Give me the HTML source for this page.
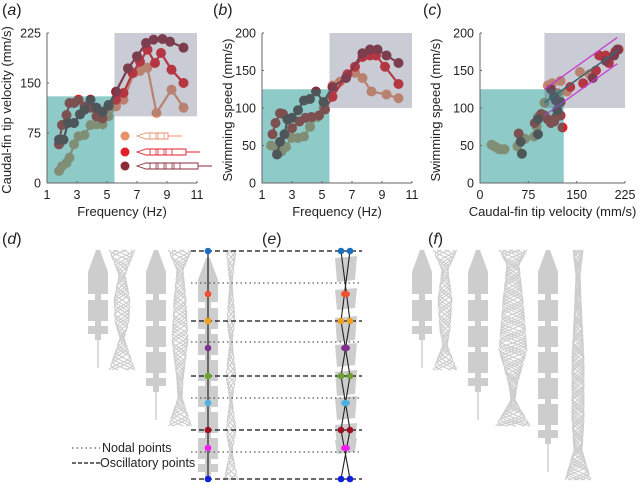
<!DOCTYPE html>
<html><head><meta charset="utf-8"><style>
body{margin:0;background:#fff;overflow:hidden;}
svg{display:block;font-family:"Liberation Sans",sans-serif;}
</style></head><body>
<svg id="fig" width="640" height="483" viewBox="0 0 640 483"></svg>
<script>
// Panel (a): frequency vs caudal-fin tip velocity
const aLightF=[1.8,2,2.3,2.5,2.8,3.1,3.5,3.9,4.3,4.7,5.1,5.6,6.1,6.8,7.2,7.7,8.3,9.3,10.1];
const aLightV=[18,25,30,38,58,70,72,87,88,88,100,115,125,165,168,173,105,140,113];
const aRedF=[1.8,2,2.3,2.5,2.8,3.1,3.5,3.9,4.3,4.7,5.1,5.6,6.1,6.7,7.2,7.7,8.2,8.6,9.3,10.1];
const aRedV=[58,87,102,120,120,125,115,113,100,97,115,125,135,165,182,200,180,195,170,150];
const aDarkF=[1.8,2.1,2.4,2.8,3.2,3.5,3.9,4.3,4.7,5.1,5.6,6.4,7,7.6,8.1,8.7,9.2,10.1];
const aDarkV=[65,65,90,90,103,110,125,113,107,117,137,172,190,210,215,216,212,203];
// Panel (b): frequency vs swimming speed
const bLightF=[1.6,2,2.3,2.6,3,3.4,3.8,4.2,4.7,5.1,5.7,6.2,6.6,7.2,7.7,8.3,9.3,10.1];
const bLightS=[50,45,42,48,60,60,62,75,88,100,130,135,140,147,140,122,118,113];
const bRedF=[1.7,1.9,2.2,2.4,2.7,3,3.5,3.9,4.3,4.8,5.2,5.7,6.7,7.2,7.7,8.2,8.6,9.2,10.1];
const bRedS=[65,80,93,92,85,73,82,87,88,90,98,115,145,155,168,170,170,155,132];
const bDarkF=[2,2.2,2.5,2.7,3,3.4,3.8,4.2,4.6,5.1,5.7,6.6,7.7,8.2,8.7,9.3,10.1];
const bDarkS=[38,55,65,85,87,97,110,112,122,108,128,140,173,178,178,170,160];
// Panel (c): tip velocity vs swimming speed
const cLightV=[18,22,26,30,34,38,58,70,84,88,90,100,105,112,120,125,135,155,170];
const cLightS=[51,49,47,45,45,45,49,59,62,75,88,107,130,133,120,136,122,148,145];
const cRedV=[60,85,95,100,105,110,118,125,128,115,140,160,180,185,195,200,210,215];
const cRedS=[66,80,92,90,85,80,88,90,74,82,128,133,150,170,170,160,175,178];
const cDarkV=[65,63,90,90,110,115,118,125,120,175,195,213,208];
const cDarkS=[39,55,65,85,125,115,110,108,97,140,163,178,170];
const cFitV=[100,213];
const cFitS=[107,176];
const cBandOffset=[18,-17];

const NS="http://www.w3.org/2000/svg";
const svg=document.getElementById('fig');
function el(tag,attrs,parent){const e=document.createElementNS(NS,tag);for(const k in attrs)e.setAttribute(k,attrs[k]);(parent||svg).appendChild(e);return e;}
function txt(x,y,s,size,extra,parent){const t=el('text',Object.assign({x:x,y:y,'font-size':size,fill:'#222'},extra||{}),parent);t.textContent=s;return t;}
const COL={light:'#e8906a',red:'#e02028',dark:'#8c2a38'};

function axes(o){
  const sx=v=>o.x0+(v-o.xmin)/(o.xmax-o.xmin)*(o.x1-o.x0);
  const sy=v=>o.y0-(v-o.ymin)/(o.ymax-o.ymin)*(o.y0-o.y1);
  return {sx,sy};
}
function panel(o){
  const g=el('g',{});
  
  
  const {sx,sy}=axes(o);
  o.series.forEach(s=>{
    const sg=el('g',{},g);
    
    
    if(s.line){
      const pts=s.xs.map((x,i)=>sx(x)+','+sy(s.ys[i])).join(' ');
      const pl=el('polyline',{points:pts,fill:'none',stroke:s.color,'stroke-width':2.2},sg);
      
      
    }
    s.xs.forEach((x,i)=>{
      const c=el('circle',{cx:sx(x),cy:sy(s.ys[i]),r:5,fill:s.color},sg);
      
      
    });
  });
  if(o.extra)o.extra(g,sx,sy);
  const r1=el('rect',{x:sx(o.teal[0]),y:sy(o.teal[3]),width:sx(o.teal[1])-sx(o.teal[0]),height:sy(o.teal[2])-sy(o.teal[3]),fill:'rgba(5,140,133,0.45)'},g);
  
  
  const r2=el('rect',{x:sx(o.gray[0]),y:sy(o.gray[3]),width:sx(o.gray[1])-sx(o.gray[0]),height:sy(o.gray[2])-sy(o.gray[3]),fill:'rgba(90,100,125,0.33)'},g);
  
  
  const ax=el('path',{d:`M${o.x0},${o.y1}V${o.y0}H${o.x1}`,fill:'none',stroke:'#666','stroke-width':1},g);
  
  
  o.xt.forEach(v=>{el('line',{x1:sx(v),x2:sx(v),y1:o.y0,y2:o.y0-2,stroke:'#666'},g);
    const t=txt(sx(v),o.y0+16,String(v),12.5,{'text-anchor':'middle'},g);
    });
  o.yt.forEach(v=>{el('line',{x1:o.x0,x2:o.x0+2,y1:sy(v),y2:sy(v),stroke:'#666'},g);
    const t=txt(o.x0-6,sy(v)+4.5,String(v),12.5,{'text-anchor':'end'},g);
    });
  const xl=txt((o.x0+o.x1)/2,o.y0+33,o.xlabel,13,{'text-anchor':'middle'},g);
  
  const yl=txt(0,0,o.ylabel,13,{'text-anchor':'middle',transform:`translate(${o.ylx},${(o.y0+o.y1)/2+2}) rotate(-90)`},g);
  
  const pl=el('text',{x:o.lx,y:15,'font-size':16,fill:'#222'},g);
  pl.innerHTML='(<tspan font-style="italic">'+o.letter+'</tspan>)';
  
}

panel({name:'panel-a-chart',letter:'a',lx:2,x0:47,x1:197,y0:183,y1:33,xmin:1,xmax:11,ymin:0,ymax:225,
  xt:[1,3,5,7,9,11],yt:[0,75,150,225],xlabel:'Frequency (Hz)',ylabel:'Caudal-fin  tip velocity (mm/s)',ylx:11,
  teal:[1,5.5,0,130],gray:[5.5,11,100,225],
  series:[{name:'series-short-fin',xs:aLightF,ys:aLightV,color:COL.light,line:1},
          {name:'series-medium-fin',xs:aRedF,ys:aRedV,color:COL.red,line:1},
          {name:'series-long-fin',xs:aDarkF,ys:aDarkV,color:COL.dark,line:1}]});
panel({name:'panel-b-chart',letter:'b',lx:213,x0:262,x1:412,y0:183,y1:33,xmin:1,xmax:11,ymin:0,ymax:200,
  xt:[1,3,5,7,9,11],yt:[0,50,100,150,200],xlabel:'Frequency (Hz)',ylabel:'Swimming speed (mm/s)',ylx:232,
  teal:[1,5.5,0,125],gray:[5.5,11,100,200],
  series:[{name:'series-short-fin',xs:bLightF,ys:bLightS,color:COL.light,line:1},
          {name:'series-medium-fin',xs:bRedF,ys:bRedS,color:COL.red,line:1},
          {name:'series-long-fin',xs:bDarkF,ys:bDarkS,color:COL.dark,line:1}]});
panel({name:'panel-c-chart',letter:'c',lx:423,x0:480,x1:625,y0:183,y1:33,xmin:0,xmax:225,ymin:0,ymax:200,
  xt:[0,75,150,225],yt:[0,50,100,150,200],xlabel:'Caudal-fin tip velocity (mm/s)',ylabel:'Swimming speed (mm/s)',ylx:440,
  teal:[0,130,0,125],gray:[100,225,100,200],
  series:[{name:'scatter-short-fin',xs:cLightV,ys:cLightS,color:COL.light},
          {name:'scatter-medium-fin',xs:cRedV,ys:cRedS,color:COL.red},
          {name:'scatter-long-fin',xs:cDarkV,ys:cDarkS,color:COL.dark}],
  extra:(g,sx,sy)=>{
    const f=el('line',{x1:sx(cFitV[0]),y1:sy(cFitS[0]),x2:sx(cFitV[1]),y2:sy(cFitS[1]),stroke:'#2a6a6a','stroke-width':1.5},g);
    
    cBandOffset.forEach(d=>{
      const b=el('line',{x1:sx(cFitV[0]),y1:sy(cFitS[0]+d),x2:sx(cFitV[1]),y2:sy(cFitS[1]+d),stroke:'#ff20ff','stroke-width':1.3},g);
      
    });
  }});

// legend in panel a
[[COL.light,136,45],[COL.red,152,63],[COL.dark,166,75]].forEach(([c,y,w],i)=>{
  const lg=el('g',{});
  
  
  el('circle',{cx:125,cy:y,r:4.5,fill:c},lg);
  el('path',{d:`M137,${y} L146,${y-3} H${137+w-14} V${y+3} H146 Z M${137+w-14},${y} H${137+w}`,fill:'none',stroke:c,'stroke-width':0.9},lg);
  for(let k=0;k<i+2;k++)el('rect',{x:150+k*8,y:y-3,width:6,height:6,fill:'none',stroke:c,'stroke-width':0.8},lg);
});

// bottom panels
const GRAY='#cdcdcd';
function fish(cx,y0,n,name){
  const g=el('g',{fill:GRAY});
  
  
  el('polygon',{points:`${cx-2},${y0} ${cx+2},${y0} ${cx+10},${y0+22} ${cx+10},${y0+44} ${cx-10},${y0+44} ${cx-10},${y0+22}`},g);
  for(let i=0;i<n;i++){
    const y=y0+50+26*i;
    el('rect',{x:cx-3,y:y-6,width:6,height:6},g);
    el('rect',{x:cx-10,y:y,width:20,height:21},g);
  }
  const yc=y0+50+26*n;
  el('rect',{x:cx-3,y:yc-6,width:6,height:20},g);
  el('rect',{x:cx-10,y:yc,width:20,height:8},g);
  el('rect',{x:cx-0.7,y:yc+14,width:1.4,height:Math.min(28,480-(yc+14))},g);
}
function wave(cx,prof,name,k){
  const g=el('g',{fill:'none',stroke:GRAY,'stroke-width':1.2});
  
  
  const amp=y=>{for(let i=0;i<prof.length-1;i++){if(y>=prof[i][0]&&y<=prof[i+1][0]){const t=(y-prof[i][0])/(prof[i+1][0]-prof[i][0]);return prof[i][1]+t*(prof[i+1][1]-prof[i][1]);}}return 0;};
  const n=k||7;
  for(let j=0;j<n;j++){
    const s=-1+2*j/(n-1);
    let d='';
    for(let y=prof[0][0];y<=prof[prof.length-1][0];y+=2){d+=(d?'L':'M')+(cx+amp(y)*Math.sin(Math.asin(s)+(y-prof[0][0])*0.22*(j%2?1:-1)))+','+y;}
    el('path',{d:d},g);
  }
}
fish(98,250,1,'fish-d-1');
wave(122,[[250,13],[275,3],[300,8],[322,7],[338,2],[370,13]],'wave-d-1');
fish(156,250,3,'fish-d-2');
wave(180,[[250,12],[270,3],[300,6],[340,8],[380,3],[398,2],[427,12]],'wave-d-2');
fish(208,258,6,'fish-e-1');
wave(231,[[250,5],[283,1],[320,4],[342,1],[376,5],[400,1],[430,5],[452,1],[480,7]],'wave-e-1',5);
fish(422,250,1,'fish-f-1');
wave(445,[[250,12],[270,3],[300,7],[330,5],[345,2],[370,12]],'wave-f-1');
fish(478,250,3,'fish-f-2');
wave(513,[[250,14],[265,6],[300,10],[350,14],[385,4],[400,2],[427,18]],'wave-f-2',9);
fish(548,250,5,'fish-f-3');
wave(578,[[250,5],[275,2],[300,3],[360,6],[420,6],[450,4],[480,13]],'wave-f-3',9);

// (e) right diagram: splayed segments
const eg=el('g',{fill:GRAY});


[[258,22],[290,18],[318,22],[345,20],[372,22],[398,20],[425,20],[440,12]].forEach(([y,h])=>{
  el('polygon',{points:`335,${y} 357,${y-2} 355,${y+h} 337,${y+h+2}`},eg);
});

const oscY=[251,321,376,430,479];
const nodY=[283,342,398,452];
const nodal=el('g',{stroke:'#333','stroke-width':1,'stroke-dasharray':'1.5,3'});


nodY.forEach(y=>el('line',{x1:191,x2:362,y1:y,y2:y},nodal));
const osc=el('g',{stroke:'#111','stroke-width':1.2,'stroke-dasharray':'5,3'});


oscY.forEach(y=>el('line',{x1:191,x2:362,y1:y,y2:y},osc));
el('line',{x1:208,x2:208,y1:251,y2:479,stroke:'#222','stroke-width':1.2});
const cr=el('g',{stroke:'#222','stroke-width':1.1});


for(let i=0;i<oscY.length-1;i++){
  el('line',{x1:341,y1:oscY[i],x2:350,y2:oscY[i+1]},cr);
  el('line',{x1:350,y1:oscY[i],x2:341,y2:oscY[i+1]},cr);
}
const dotCols=['#1a70c0','#f05030','#f0a020','#803090','#70a030','#50b0e0','#a01020','#f020f0','#1020e0'];
const dotY=[251,294,321,348,376,403,430,448,479];
dotCols.forEach((c,i)=>{
  const d=el('circle',{cx:208,cy:dotY[i],r:3.3,fill:c});
  
  
  if(i%2===0){el('circle',{cx:341,cy:dotY[i],r:3.3,fill:c});el('circle',{cx:350,cy:dotY[i],r:3.3,fill:c});}
  else{el('ellipse',{cx:345.5,cy:dotY[i],rx:4.5,ry:3.3,fill:c});}
});

const lb=el('g',{});


el('line',{x1:72,x2:100,y1:448,y2:448,stroke:'#333','stroke-dasharray':'1.5,3'},lb);
txt(102,452,'Nodal points',12.5,{},lb);
el('line',{x1:72,x2:100,y1:463,y2:463,stroke:'#111','stroke-width':1.2,'stroke-dasharray':'4,2'},lb);
txt(100,467,'Oscillatory points',12.5,{},lb);

[['d',2],['e',262],['f',428]].forEach(([l,x])=>{
  const t=el('text',{x:x,y:244,'font-size':16,fill:'#222'});
  t.innerHTML='(<tspan font-style="italic">'+l+'</tspan>)';
  
  
});
</script>
</body></html>
